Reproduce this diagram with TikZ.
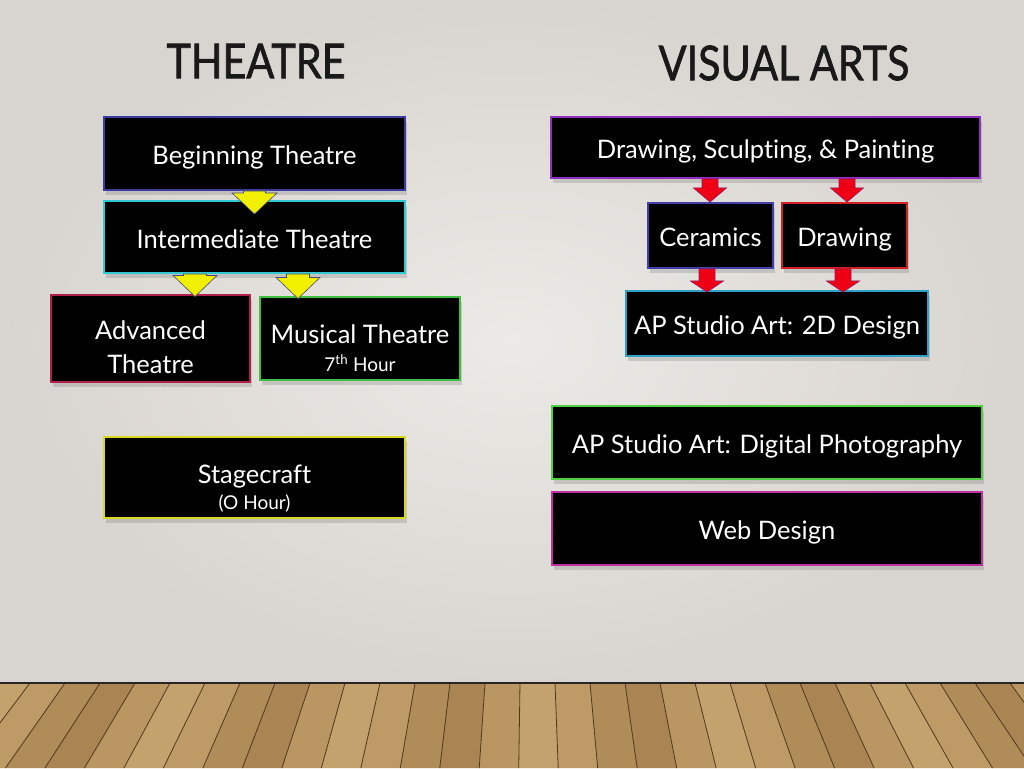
\documentclass[tikz,border=0pt]{standalone}
\usepackage{fontspec}
\setmainfont{Lato}[Ligatures=NoCommon]
\newfontfamily\headfont{Lato}[FakeBold=1.5]
\usetikzlibrary{calc,shadows}

\definecolor{bglight}{RGB}{236,234,230}
\definecolor{bgdark}{RGB}{216,213,208}
\definecolor{bbegin}{RGB}{60,60,160}
\definecolor{binter}{RGB}{48,200,210}
\definecolor{badv}{RGB}{176,32,74}
\definecolor{bmusic}{RGB}{64,192,64}
\definecolor{bstage}{RGB}{216,216,32}
\definecolor{bdsp}{RGB}{144,48,192}
\definecolor{bceram}{RGB}{64,64,168}
\definecolor{bdraw}{RGB}{208,32,32}
\definecolor{bapd}{RGB}{48,160,200}
\definecolor{bphoto}{RGB}{80,208,64}
\definecolor{bweb}{RGB}{192,48,160}
\definecolor{wood0}{RGB}{186,150,98}
\definecolor{wood1}{RGB}{176,140,88}
\definecolor{wood2}{RGB}{196,162,110}
\definecolor{wood3}{RGB}{170,132,82}
\definecolor{wood4}{RGB}{190,155,102}

\tikzset{
  course/.style={draw=#1, fill=black, text=white, line width=2pt, align=center, inner sep=0pt,
    font=\fontsize{25.5}{31}\selectfont, execute at begin node=\rule[-9.3pt]{0pt}{41pt},
    drop shadow={shadow xshift=2pt, shadow yshift=-5pt, opacity=.3}},
  heading/.style={font=\headfont\fontsize{48}{48}\selectfont, text=black!90},
  yellowarrow/.style={fill={rgb,255:red,240;green,240;blue,0}, draw={rgb,255:red,70;green,70;blue,130}, line width=.6pt},
  redarrow/.style={fill={rgb,255:red,240;green,0;blue,20}, draw={rgb,255:red,150;green,20;blue,90}, line width=.6pt},
  plankline/.style={draw={rgb,255:red,80;green,55;blue,25}, line width=.8pt},
}

% style, x, from, to, tip depth, shaft half width, head half width, head length
\newcommand\blockarrow[8]{%
  \filldraw[#1] let \p1=(#3.south), \p2=(#4.north) in
    (#2pt-#6pt,\y1) -- (#2pt+#6pt,\y1) -- (#2pt+#6pt,\y2-#5pt+#8pt) -- (#2pt+#7pt,\y2-#5pt+#8pt)
    -- (#2pt,\y2-#5pt) -- (#2pt-#7pt,\y2-#5pt+#8pt) -- (#2pt-#6pt,\y2-#5pt+#8pt) -- cycle;}
\newcommand\minor[1]{{\fontsize{19}{21}\selectfont #1}}
\newcommand\toproom[1]{\rule{0pt}{#1pt}}

\begin{document}
\begin{tikzpicture}[x=1pt,y=1pt]
  \useasboundingbox (0,0) rectangle (1024,768);
  % wall and floor
  \shade[inner color=bglight, outer color=bgdark] (0,85) rectangle (1024,768);
  \begin{scope}
    \clip (0,0) rectangle (1024,85);
    \foreach \k in {0,...,32}{
      \pgfmathsetmacro\xa{530+(-40+35*\k-530)*1.128}
      \pgfmathsetmacro\xb{530+(-5+35*\k-530)*1.128}
      \pgfmathtruncatemacro\tone{mod(\k*7,5)}
      \fill[wood\tone] (-40+35*\k,85) -- (-5+35*\k,85) -- (\xb,0) -- (\xa,0) -- cycle;
      \draw[plankline] (-40+35*\k,85) -- (\xa,0);
    }
  \end{scope}
  \draw[line width=2.5pt, black!85] (0,85) -- (1024,85);

  % headings
  \node[heading] (theatre) at (256,707) {\scalebox{.86}[1]{THEATRE}};
  \node[heading] (visual) at (784,705) {\scalebox{.86}[1]{VISUAL ARTS}};

  % theatre courses
  \node[course=bbegin, minimum width=301, minimum height=73] (begin) at (254.5,614.5) {Beginning Theatre};
  \node[course=binter, minimum width=301, minimum height=72] (inter) at (254.5,531) {Intermediate Theatre};
  \node[course=badv, minimum width=199, minimum height=74] (adv) at (150.5,429) {\toproom{43.7}Advanced\\[3pt]Theatre};
  \node[course=bmusic, minimum width=200, minimum height=74] (music) at (360,429) {\toproom{45.7}Musical Theatre\\[-3pt]\minor{7\textsuperscript{th} Hour}};
  \node[course=bstage, minimum width=301, minimum height=74] (stage) at (254.5,290) {\toproom{45.7}Stagecraft\\[-5pt]\minor{(O Hour)}\rule[-9pt]{0pt}{0pt}};

  % visual arts courses
  \node[course=bdsp, minimum width=429, minimum height=61] (dsp) at (765.5,620.5) {Drawing, Sculpting, \& Painting};
  \node[course=bceram, minimum width=125, minimum height=65] (ceram) at (710.5,532.5) {Ceramics};
  \node[course=bdraw, minimum width=125, minimum height=65] (draw) at (844.5,532.5) {Drawing};
  \node[course=bapd, minimum width=302, minimum height=65] (apd) at (777,444.5) {AP Studio Art: 2D Design};
  \node[course=bphoto, minimum width=430, minimum height=73] (photo) at (767,325.5) {AP Studio Art: Digital Photography};
  \node[course=bweb, minimum width=430, minimum height=73] (web) at (767,239.5) {Web Design};

  % arrows
  \blockarrow{yellowarrow}{254.5}{begin}{inter}{14}{11}{22.5}{21}
  \blockarrow{yellowarrow}{195}{inter}{adv}{2}{11.5}{22}{21}
  \blockarrow{yellowarrow}{298}{inter}{music}{2}{11.5}{22}{21}
  \blockarrow{redarrow}{710}{dsp}{ceram}{0}{8}{16.5}{14}
  \blockarrow{redarrow}{847}{dsp}{draw}{0}{8}{16.5}{14}
  \blockarrow{redarrow}{707}{ceram}{apd}{2}{8}{16.5}{11}
  \blockarrow{redarrow}{843}{draw}{apd}{2}{8}{16.5}{11}
\end{tikzpicture}
\end{document}
